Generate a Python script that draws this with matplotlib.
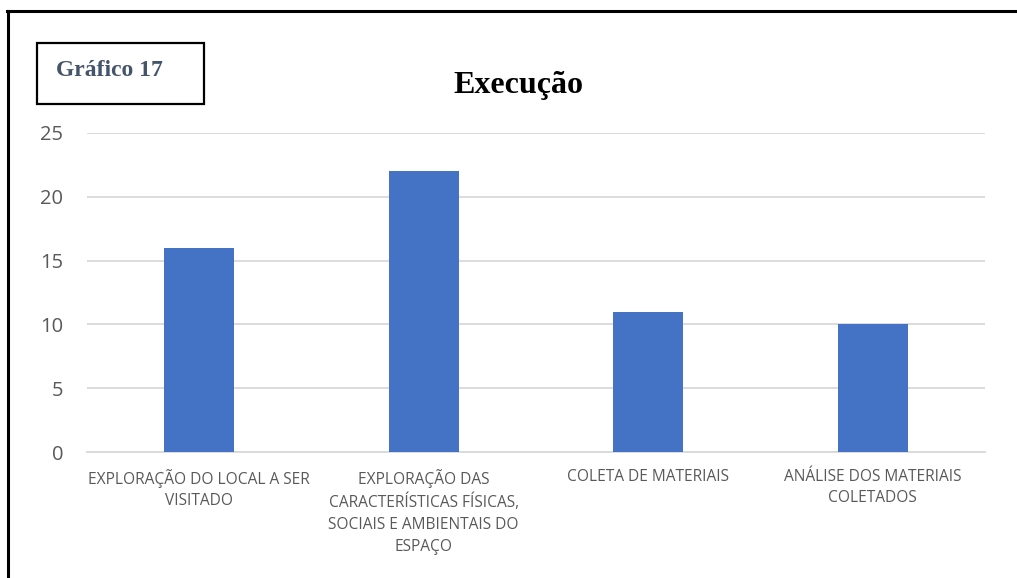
import matplotlib
matplotlib.use("Agg")
import matplotlib.pyplot as plt
from matplotlib.patches import Rectangle
from matplotlib.lines import Line2D

categories = [
    "EXPLORAÇÃO DO LOCAL A SER\nVISITADO",
    "EXPLORAÇÃO DAS\nCARACTERÍSTICAS FÍSICAS,\nSOCIAIS E AMBIENTAIS DO\nESPAÇO",
    "COLETA DE MATERIAIS",
    "ANÁLISE DOS MATERIAIS\nCOLETADOS",
]
values = [16, 22, 11, 10]
yticks = [0, 5, 10, 15, 20, 25]

W, H = 1017, 578
fig = plt.figure(figsize=(W / 100, H / 100), dpi=100)

def fx(px):
    return px / W

def fy(py):
    return 1 - py / H

ax = fig.add_axes([fx(87), fy(452), fx(985) - fx(87), fy(133) - fy(452)])
x = range(len(categories))
ax.bar(x, values, width=0.31, color="#4472C4", zorder=3)
ax.set_xlim(-0.5, 3.5)
ax.set_ylim(0, 25)
ax.set_yticks(yticks)
ax.yaxis.grid(True, color="#D9D9D9", linewidth=1.3, zorder=0)
for s in ["top", "right", "left"]:
    ax.spines[s].set_visible(False)
ax.spines["bottom"].set_color("#D9D9D9")
ax.spines["bottom"].set_linewidth(1.3)
ax.set_xticks(list(x))
ax.set_xticklabels(categories, fontfamily="Open Sans", fontsize=11.2,
                   color="#595959", linespacing=1.47)
ax.tick_params(axis="x", length=0, pad=12)
ax.tick_params(axis="y", length=0, pad=17, labelsize=14.5, labelcolor="#595959")
for t in ax.get_yticklabels():
    t.set_fontfamily("Open Sans")

# title
fig.text(fx(518), fy(93), "Execução", ha="center", va="baseline",
         fontfamily="Liberation Serif", fontweight="bold", fontsize=23,
         color="black")

# "Gráfico 17" box
fig.patches.append(Rectangle((fx(37), fy(104)), fx(204) - fx(37), fy(43) - fy(104),
                             transform=fig.transFigure, fill=False,
                             edgecolor="black", linewidth=1.6))
fig.text(fx(56), fy(76), "Gráfico 17", ha="left", va="baseline",
         fontfamily="Liberation Serif", fontweight="bold", fontsize=17,
         color="#44546A")

# outer page frame (top and left)
fig.lines.append(Line2D([fx(7), 1], [fy(11), fy(11)], transform=fig.transFigure,
                        color="black", linewidth=2.2))
fig.lines.append(Line2D([fx(8), fx(8)], [fy(11), 0], transform=fig.transFigure,
                        color="black", linewidth=2.2))

fig.savefig("out.png", dpi=100)
